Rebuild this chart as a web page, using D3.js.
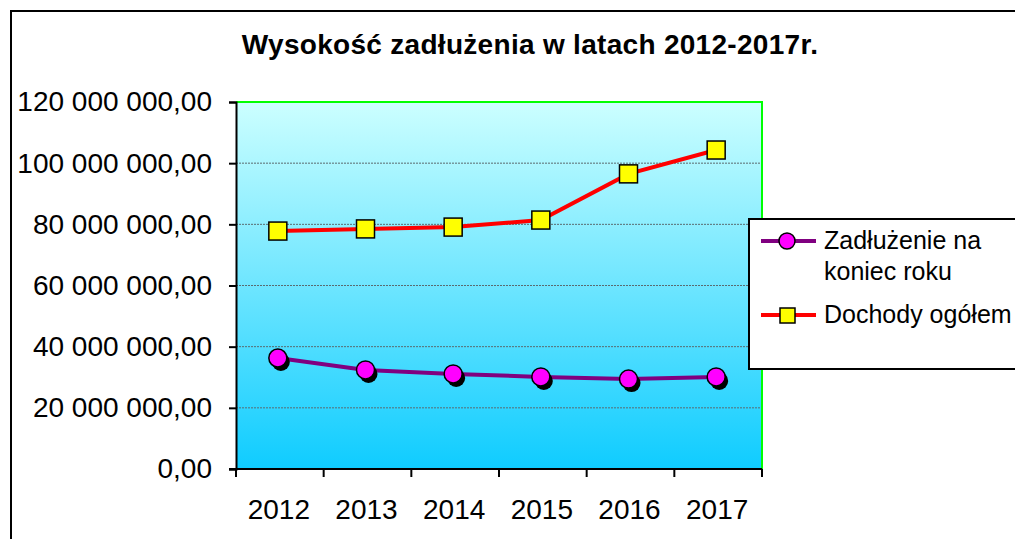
<!DOCTYPE html>
<meta charset="utf-8">
<script src="https://d3js.org/d3.v7.min.js"></script>
<style>
  body { margin: 0; background: #fff; }
  text { font-family: "Liberation Sans", Arial, sans-serif; }
</style>
<div id="chart"></div>
<script>

// data
var years = ["2012", "2013", "2014", "2015", "2016", "2017"];
var zadluzenie = [36300000, 32400000, 31100000, 30100000, 29400000, 30100000];
var dochody = [77800000, 78500000, 79100000, 81400000, 96500000, 104300000];
var yTicks = [0, 20000000, 40000000, 60000000, 80000000, 100000000, 120000000];
var title = "Wysokość zadłużenia w latach 2012-2017r.";

var W = 1015, H = 539;
var plot = {left: 236, top: 102, right: 762, bottom: 469};

var svg = d3.select("#chart").append("svg")
  .attr("width", W).attr("height", H);

// outer frame (runs off the right and bottom edge)
svg.append("rect")
  .attr("x", 11).attr("y", 11)
  .attr("width", 1040).attr("height", 560)
  .attr("fill", "#fff").attr("stroke", "#000").attr("stroke-width", 2);

// background gradient of the plot area
var defs = svg.append("defs");
var grad = defs.append("linearGradient")
  .attr("id", "bg").attr("x1", 0).attr("y1", 0).attr("x2", 0).attr("y2", 1);
grad.append("stop").attr("offset", "0%").attr("stop-color", "#ccffff");
grad.append("stop").attr("offset", "100%").attr("stop-color", "#0fccff");

var x = d3.scaleBand()
  .domain(years)
  .range([plot.left, plot.right]);

var y = d3.scaleLinear()
  .domain([0, 120000000])
  .range([plot.bottom, plot.top]);

var pl = d3.formatLocale({decimal: ",", thousands: " ", grouping: [3], currency: ["", ""]});
var fmt = pl.format(",.2f");

svg.append("rect")
  .attr("x", plot.left).attr("y", plot.top)
  .attr("width", plot.right - plot.left).attr("height", plot.bottom - plot.top)
  .attr("fill", "url(#bg)");

// gridlines
svg.append("g")
  .selectAll("line")
  .data(yTicks.filter(function(d) { return d > 0 && d < 120000000; }))
  .enter().append("line")
    .attr("x1", plot.left).attr("x2", plot.right)
    .attr("y1", function(d) { return y(d); })
    .attr("y2", function(d) { return y(d); })
    .attr("stroke", "#5a6b70").attr("stroke-width", 1)
    .attr("stroke-dasharray", "2,1");

// green top / right border
svg.append("path")
  .attr("d", "M" + plot.left + "," + plot.top + "H" + plot.right + "V" + plot.bottom)
  .attr("fill", "none").attr("stroke", "#00ff00").attr("stroke-width", 2);

// Y axis
var yAxis = svg.append("g")
  .attr("transform", "translate(" + plot.left + ",0)")
  .call(d3.axisLeft(y).tickValues(yTicks).tickSize(7).tickPadding(17).tickFormat(fmt));
yAxis.select(".domain").attr("stroke-width", 2);
yAxis.selectAll(".tick line").attr("stroke-width", 2);
yAxis.selectAll("text")
  .style("font-family", "'Liberation Sans', Arial, sans-serif")
  .attr("font-size", 28).attr("fill", "#000");

// X axis: ticks on category boundaries
var xAxis = svg.append("g")
  .attr("transform", "translate(0," + plot.bottom + ")");
xAxis.append("line")
  .attr("x1", plot.left - 7).attr("x2", plot.right)
  .attr("stroke", "#000").attr("stroke-width", 2);
xAxis.selectAll(".xt")
  .data(years.concat(["end"]))
  .enter().append("line")
    .attr("class", "xt")
    .attr("x1", function(d, i) { return i < years.length ? x(d) : plot.right; })
    .attr("x2", function(d, i) { return i < years.length ? x(d) : plot.right; })
    .attr("y1", 0).attr("y2", 8)
    .attr("stroke", "#000").attr("stroke-width", 2);
xAxis.selectAll(".xl")
  .data(years)
  .enter().append("text")
    .attr("x", function(d) { return x(d) + x.bandwidth() / 2 - 1; })
    .attr("y", 50)
    .attr("text-anchor", "middle")
    .attr("font-size", 28)
    .text(function(d) { return d; });

// lines
function cx(d, i) { return x(years[i]) + x.bandwidth() / 2 - 2; }

var line = d3.line()
  .x(cx)
  .y(function(d) { return y(d); });

svg.append("path").datum(dochody)
  .attr("d", line).attr("fill", "none")
  .attr("stroke", "#ff0000").attr("stroke-width", 4);

svg.append("path").datum(zadluzenie)
  .attr("d", line).attr("fill", "none")
  .attr("stroke", "#800080").attr("stroke-width", 4);

// circle markers with shadow
svg.append("g").selectAll("circle")
  .data(zadluzenie).enter().append("circle")
    .attr("cx", function(d, i) { return cx(d, i) + 3; })
    .attr("cy", function(d) { return y(d) + 4; })
    .attr("r", 9).attr("fill", "#000");
svg.append("g").selectAll("circle")
  .data(zadluzenie).enter().append("circle")
    .attr("cx", cx)
    .attr("cy", function(d) { return y(d); })
    .attr("r", 9).attr("fill", "#ff00ff")
    .attr("stroke", "#000").attr("stroke-width", 1.5);

// square markers
svg.append("g").selectAll("rect")
  .data(dochody).enter().append("rect")
    .attr("x", function(d, i) { return cx(d, i) - 9; })
    .attr("y", function(d) { return y(d) - 9; })
    .attr("width", 18).attr("height", 18)
    .attr("fill", "#ffff00").attr("stroke", "#000").attr("stroke-width", 1.5);

// title
svg.append("text")
  .attr("x", 530).attr("y", 54)
  .attr("text-anchor", "middle")
  .attr("font-size", 28).attr("font-weight", "bold").attr("letter-spacing", 0.3)
  .text(title);

// legend
var lg = svg.append("g");
lg.append("rect")
  .attr("x", 749).attr("y", 219)
  .attr("width", 300).attr("height", 150)
  .attr("fill", "#fff").attr("stroke", "#000").attr("stroke-width", 2);

lg.append("line").attr("x1", 761).attr("x2", 816).attr("y1", 241).attr("y2", 241)
  .attr("stroke", "#800080").attr("stroke-width", 4);
lg.append("circle").attr("cx", 787).attr("cy", 241).attr("r", 8)
  .attr("fill", "#ff00ff").attr("stroke", "#000").attr("stroke-width", 1.5);
lg.append("text").attr("x", 824).attr("y", 249)
  .attr("font-size", 25).text("Zadłużenie na");
lg.append("text").attr("x", 824).attr("y", 280)
  .attr("font-size", 25).text("koniec roku");

lg.append("line").attr("x1", 761).attr("x2", 816).attr("y1", 315).attr("y2", 315)
  .attr("stroke", "#ff0000").attr("stroke-width", 4);
lg.append("rect").attr("x", 780).attr("y", 308).attr("width", 15).attr("height", 15)
  .attr("fill", "#ffff00").attr("stroke", "#000").attr("stroke-width", 1.5);
lg.append("text").attr("x", 824).attr("y", 323)
  .attr("font-size", 25).text("Dochody ogółem");

</script>
